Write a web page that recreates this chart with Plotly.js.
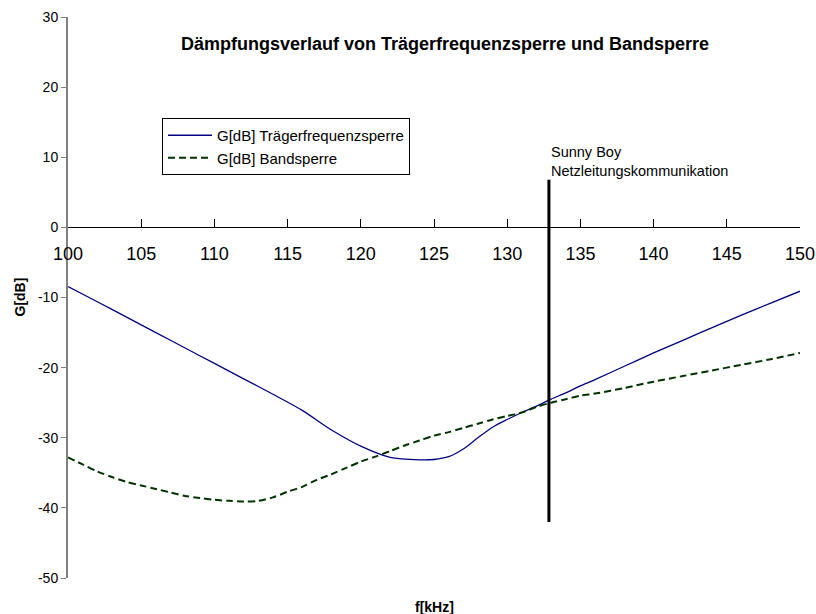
<!DOCTYPE html>
<html>
<head>
<meta charset="utf-8">
<script src="https://cdn.plot.ly/plotly-3.0.1.min.js"></script>
<style>html,body{margin:0;padding:0;background:#fff;}#chart{width:816px;height:614px;}</style>
</head>
<body>
<div id="chart"></div>
<script>
// Trägerfrequenzsperre (blue, solid)
var freqTraeger = [100,102,104,106,108,110,112,114,116,118,120,122,124,125,126,127,128,129,130,131,132,133,134,135,136,138,140,142,144,146,148,150];
var gTraeger = [-8.45,-10.6,-12.8,-15.0,-17.2,-19.4,-21.6,-23.8,-26.1,-28.9,-31.2,-32.8,-33.15,-33.1,-32.7,-31.6,-30.0,-28.5,-27.4,-26.4,-25.5,-24.5,-23.6,-22.6,-21.7,-19.8,-17.9,-16.1,-14.3,-12.5,-10.8,-9.1];

// Bandsperre (green, dashed)
var freqBand = [100,101,102,103,104,105,106,107,108,109,110,111,112,113,114,115,116,117,118,119,120,121,122,123,124,125,126,127,128,129,130,131,132,133,134,135,136,138,140,142,144,146,148,150];
var gBand = [-32.8,-33.8,-34.8,-35.6,-36.3,-36.8,-37.3,-37.8,-38.3,-38.6,-38.85,-39.0,-39.1,-39.0,-38.5,-37.7,-37.0,-36.0,-35.2,-34.3,-33.4,-32.7,-31.9,-31.1,-30.4,-29.7,-29.2,-28.6,-28.0,-27.4,-26.9,-26.4,-25.6,-25.0,-24.5,-24.0,-23.7,-22.9,-22.0,-21.2,-20.4,-19.6,-18.8,-17.9];

// Marker line: Sunny Boy Netzleitungskommunikation
var markerX = [132.85, 132.85];
var markerY = [6.8, -42];

var xTicks = [100,105,110,115,120,125,130,135,140,145,150];
var yTicks = [-50,-40,-30,-20,-10,0,10,20,30];

var FONT = 'Liberation Sans, Arial, sans-serif';

var traces = [
  {x: freqTraeger, y: gTraeger, type: 'scatter', mode: 'lines', name: 'G[dB] Trägerfrequenzsperre',
   line: {color: '#000080', width: 1.3, shape: 'spline', smoothing: 0.8}},
  {x: freqBand, y: gBand, type: 'scatter', mode: 'lines', name: 'G[dB] Bandsperre',
   line: {color: '#003300', width: 2, dash: '7px,4px', shape: 'spline', smoothing: 0.8}},
  {x: markerX, y: markerY, type: 'scatter', mode: 'lines', showlegend: false, hoverinfo: 'skip',
   line: {color: '#000000', width: 3}}
];

var layout = {
  width: 816, height: 614,
  paper_bgcolor: '#ffffff', plot_bgcolor: '#ffffff',
  margin: {l: 68, r: 16, t: 17, b: 36},
  font: {family: FONT, color: '#000000'},
  showlegend: true,
  title: {text: '<b>Dämpfungsverlauf von Trägerfrequenzsperre und Bandsperre</b>',
          font: {family: FONT, size: 18, color: '#000'},
          x: 445/816, xanchor: 'center', y: 1 - 44/614, yanchor: 'middle'},
  xaxis: {range: [100, 150], tickvals: xTicks, ticktext: xTicks.map(String),
          showgrid: false, zeroline: false, showline: true, linecolor: '#000', linewidth: 1,
          ticks: 'inside', ticklen: 8, tickcolor: '#000', tickwidth: 1,
          anchor: 'free', position: 0.625, side: 'bottom',
          ticklabelstandoff: 10,
          tickfont: {family: FONT, size: 18, color: '#000'}},
  yaxis: {range: [-50, 30], tickvals: yTicks, ticktext: yTicks.map(String),
          showgrid: false, zeroline: false, showline: true, linecolor: '#808080', linewidth: 2,
          ticks: 'outside', ticklen: 5, tickcolor: '#808080', tickwidth: 1,
          domain: [0, 1],
          tickfont: {family: FONT, size: 14, color: '#000'}},
  legend: {x: (162-68)/732, y: (578-118)/561, xanchor: 'left', yanchor: 'top',
           bgcolor: '#ffffff', bordercolor: '#000000', borderwidth: 1, itemwidth: 44,
           font: {family: FONT, size: 15, color: '#000'}},
  annotations: [
    {text: 'Sunny Boy<br>Netzleitungskommunikation', x: 132.85, y: 6.6, xref: 'x', yref: 'y',
     xanchor: 'left', yanchor: 'bottom', align: 'left', showarrow: false,
     font: {family: FONT, size: 14.5, color: '#000'}},
    {text: '<b>f[kHz]</b>', x: 0.5, y: 0, xref: 'paper', yref: 'paper', xanchor: 'center', yanchor: 'top',
     yshift: -19, showarrow: false, font: {family: FONT, size: 14, color: '#000'}},
    {text: '<b>G[dB]</b>', x: 0, y: 0.5, xref: 'paper', yref: 'paper', xanchor: 'center', yanchor: 'middle',
     xshift: -49, textangle: -90, showarrow: false, font: {family: FONT, size: 14, color: '#000'}}
  ]
};

Plotly.newPlot('chart', traces, layout, {displayModeBar: false, staticPlot: true});
</script>
</body>
</html>
